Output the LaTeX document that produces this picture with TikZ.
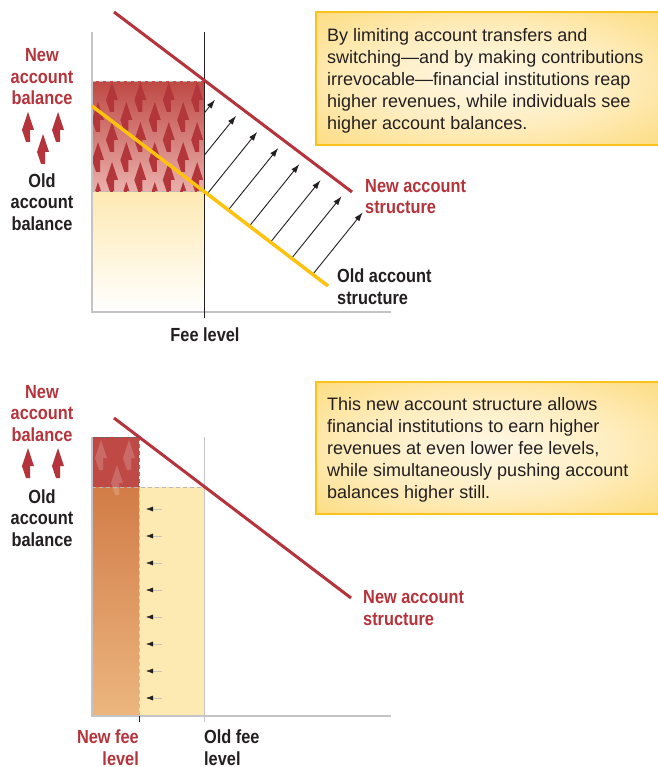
\documentclass[tikz,border=0pt]{standalone}
\usepackage{fontspec}
\setmainfont{Liberation Sans}
\newfontfamily\narrowfont{Liberation Sans}[FakeStretch=0.86]
\usetikzlibrary{arrows.meta}
\definecolor{newred}{HTML}{B5333A}
\definecolor{oldgold}{HTML}{FFC20E}
\definecolor{axisgrey}{HTML}{C4C4C6}
\definecolor{balred}{HTML}{BF4A45}
\definecolor{balpink}{HTML}{EAB0AC}
\definecolor{arrred}{HTML}{B3363A}
\definecolor{cream}{HTML}{FDE9B2}
\definecolor{feeorange}{HTML}{D27C47}
\definecolor{feepeach}{HTML}{ECB67F}
\definecolor{notein}{HTML}{FFF8E8}
\definecolor{noteout}{HTML}{FCD462}
\definecolor{noteedge}{HTML}{FBC21C}
\definecolor{ink}{HTML}{231F20}
\pgfdeclareradialshading{noteglow}{\pgfpoint{0bp}{0bp}}{color(0bp)=(notein); color(18bp)=(notein!70!noteout); color(45bp)=(noteout); color(80bp)=(noteout)}

\begin{document}
\begin{tikzpicture}[
    x=1pt, y=-1pt,
    axis/.style={draw=axisgrey, line width=2pt},
    newline/.style={draw=newred, line width=3pt},
    oldline/.style={draw=oldgold, line width=3.5pt},
    liftarrow/.style={draw=ink, line width=0.9pt, -{Latex[length=9pt,width=6pt]}},
    feeshift/.style={draw=gray!45, line width=0.5pt, -{Latex[length=7pt,width=5pt,color=ink]}},
    seam/.style={draw=gray!55, line width=1pt, dash pattern=on 4pt off 3pt},
    redseam/.style={draw=red!70!white, line width=1pt, dash pattern=on 4pt off 3pt},
    newlbl/.style={font=\narrowfont\bfseries\fontsize{19}{21.5}\selectfont, text=newred, align=center, inner sep=0pt, anchor=base},
    oldlbl/.style={newlbl, text=ink},
    note/.style={draw=noteedge, line width=2.5pt, shading=noteglow},
    notetext/.style={font=\fontsize{18}{22.1}\selectfont, text=ink, align=left, inner sep=0pt, anchor=base west},
    uparr/.pic={\path[pic actions] (-6,0) -- (0,-18) -- (6,0) -- (2,0) -- (2,12) -- (-2,12) -- cycle;}
]
\useasboundingbox (0,0) rectangle (657,767);

% ---- top panel (multi-line nodes sit on their last baseline)
\coordinate (newA) at (114,12);
\coordinate (newB) at (352,192);
\coordinate (oldA) at (92,106);
\coordinate (oldB) at (328,286);

\foreach \i in {0,...,7}
    \draw[liftarrow] ({165+21.1*\i},{106+0.763*(73+21.1*\i)}) -- ++(50,-62);

\shade[top color=cream, bottom color=white] (92,192) rectangle (204,312);
\shade[top color=balred, bottom color=balpink] (92,82) rectangle (204,192);
\begin{scope}
    \clip (92,82) rectangle (204,192);
    \foreach \r in {0,...,5} {
        \pgfmathsetmacro{\xo}{isodd(\r) ? 98 : 112}
        \foreach \c in {-1,...,4}
            \pic[fill=arrred] at ({\xo+28.4*\c},{100+20*\r}) {uparr};
    }
\end{scope}
\draw[seam] (92,82) -- (204,82);
\draw[seam] (92,192) -- (204,192);
\draw[redseam] (204,82) -- (204,192);

\draw[axis] (92,32) -- (92,312) -- (391,312);
\draw[ink, line width=0.8pt] (204,32) -- (204,318);

\draw[oldline] (oldA) -- (oldB);
\draw[newline] (newA) -- (newB);

\node[newlbl] (newbal) at (42,105) {New\\account\\balance};
\pic[fill=newred] at (28,130) {uparr};
\pic[fill=newred] at (58,130) {uparr};
\pic[fill=newred] at (43,152) {uparr};
\node[oldlbl] (oldbal) at (42,230) {Old\\account\\balance};
\node[oldlbl] (fee) at (205,341) {Fee level};
\node[newlbl, anchor=base west, align=left] (newstruct) at (365,214) {New account\\structure};
\node[oldlbl, anchor=base west, align=left] (oldstruct) at (337,304) {Old account\\structure};

\path[note] (316,12) rectangle (662,145);
\node[notetext] (limitnote) at (327,130) {By limiting account transfers and\\switching---and by making contributions\\irrevocable---financial institutions reap\\higher revenues, while individuals see\\higher account balances.};

% ---- bottom panel
\coordinate (lowA) at (114,418);
\coordinate (lowB) at (351,598);

\fill[cream] (139,487) rectangle (204,716);
\shade[top color=feeorange, bottom color=feepeach] (92,487) rectangle (139,716);
\fill[balred] (92,437) rectangle (139,487);
\pic[fill=white, fill opacity=0.18] at (101,458) {uparr};
\pic[fill=white, fill opacity=0.18] at (129,458) {uparr};
\pic[fill=white, fill opacity=0.18] at (117,483) {uparr};
\draw[seam, draw=gray!80!black] (92,437) -- (139,437);
\draw[seam] (92,487) -- (204,487);
\draw[redseam] (139,437) -- (139,487);
\draw[redseam, draw=orange!60!white] (139,487) -- (139,716);

\foreach \k in {0,...,7}
    \draw[feeshift] (162,{509+27*\k}) -- (146,{509+27*\k});

\draw[axisgrey, line width=1pt] (204,437) -- (204,722);
\draw[axis] (92,437) -- (92,716) -- (391,716);
\draw[ink, line width=0.8pt] (139,716) -- (139,722);

\draw[newline] (lowA) -- (lowB);

\node[newlbl] (newbal2) at (42,441) {New\\account\\balance};
\pic[fill=newred] at (28,466) {uparr};
\pic[fill=newred] at (58,466) {uparr};
\node[oldlbl] (oldbal2) at (42,546) {Old\\account\\balance};
\node[newlbl, anchor=base east, align=right] (newfee) at (139,765) {New fee\\level};
\node[oldlbl, anchor=base west, align=left] (oldfee) at (204,765) {Old fee\\level};
\node[newlbl, anchor=base west, align=left] (newstruct2) at (363,625) {New account\\structure};

\path[note] (316,382) rectangle (662,514);
\node[notetext] (lownote) at (327,498.5) {This new account structure allows\\financial institutions to earn higher\\revenues at even lower fee levels,\\while simultaneously pushing account\\balances higher still.};

\end{tikzpicture}
\end{document}
